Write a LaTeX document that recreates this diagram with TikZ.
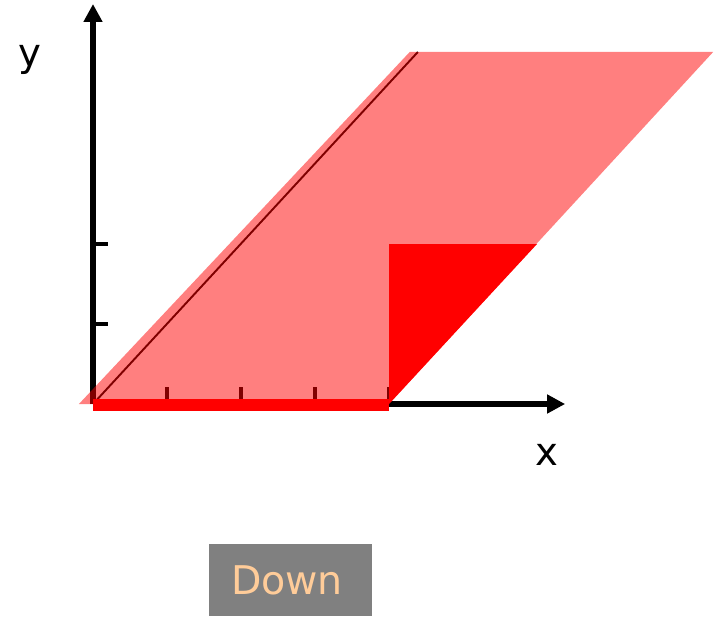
\documentclass[tikz,border=0pt]{standalone}
\usepackage{fontspec}
\usepackage{xcolor}
\usepackage{tikz}
\usetikzlibrary{arrows.meta,positioning}
\newfontfamily\labelfont{DejaVu Sans}
\definecolor{shearRed}{HTML}{FF0000}
\definecolor{btnGray}{HTML}{808080}
\definecolor{btnText}{HTML}{FFCC99}

\begin{document}
\begin{tikzpicture}[x=1.48cm,y=1.6cm,
    axis/.style={line width=3.4pt,-{Triangle[length=0.36cm,width=0.36cm]}},
    tick/.style={line width=2pt},
    axislabel/.style={font=\labelfont\fontsize{22}{26}\selectfont},
    downbox/.style={fill=btnGray,text=btnText,font=\labelfont\fontsize{22.5}{27}\selectfont,
      text width=2.38cm,inner xsep=0.44cm,align=left,minimum height=1.44cm,inner ysep=0pt}]
    \useasboundingbox (-1.2568,-2.65) rectangle (8.5405,5.05);
    % axes and ticks
    \coordinate (o) at (0,0);
    \coordinate (xend) at (6.38,0);
    \coordinate (yend) at (0,5.0);
    \draw[axis] (o)--(xend);
    \draw[axis] (o)--(yend);
    \foreach \k in {1,2,3,4} \draw[tick] (\k,0)--(\k,0.21);
    \foreach \k in {1,2} \draw[tick] (0,\k)--(0.2,\k);
    \draw[line width=1.1pt] (o)--(4.39,4.4);
    % sheared strip
    \fill[shearRed,opacity=0.5] (-0.19,0)--(4,0)--(8.38,4.4)--(4.28,4.4)--cycle;
    \fill[shearRed] (4,0)--(6,2)--(4,2)--cycle;
    \draw[shearRed,line width=6.6pt] (0,-0.01)--(4,-0.01);
    \node[axislabel] (ylab) at (-0.851,4.3) {y};
    \node[axislabel] (xlab) at (6.135,-0.64) {x};
    \node[downbox] (down) at (2.669,-2.2) {Down};
  \end{tikzpicture}
\end{document}
